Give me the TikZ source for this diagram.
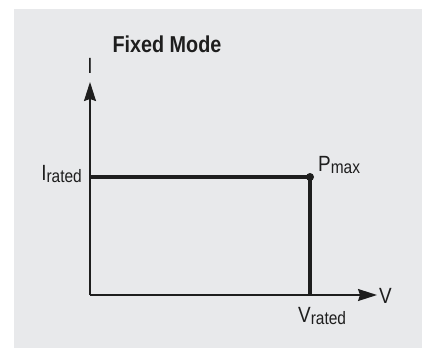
\documentclass[tikz,border=0pt]{standalone}
\usepackage{fontspec}
\setmainfont{Liberation Sans}[FakeStretch=0.86]
\usetikzlibrary{arrows.meta}
\definecolor{panel}{RGB}{232,233,235}
\definecolor{ink}{RGB}{30,30,30}
\newcommand{\lowtext}[1]{\raisebox{-2pt}{\fontsize{18}{18}\selectfont #1}}

\begin{document}
\begin{tikzpicture}[x=1pt, y=-1pt,
        every node/.style={font=\fontsize{22}{22}\selectfont, inner sep=0pt, text=ink},
        axis/.style={ink, line width=1.5, -{Stealth[length=19,width=12,inset=2]}},
        curve/.style={ink, line width=4}]
        \useasboundingbox (0,0) rectangle (422,349);
        \fill[panel] (14,9) rectangle (422,348);

        \coordinate (origin) at (90,295);
        \coordinate (itop) at (90,82);
        \coordinate (vtip) at (377,295);
        \coordinate (irated) at (90,177);
        \coordinate (pmax) at (310,177);
        \coordinate (vrated) at (310,295);

        \node[anchor=base, font=\bfseries\fontsize{23}{23}\selectfont] (title) at (167,52) {Fixed Mode};
        \node[anchor=base] (ilabel) at (90,73) {I};
        \node[anchor=base west] (vlabel) at (379,303) {V};
        \node[anchor=base east] (iratedlabel) at (82,180) {I\lowtext{rated}};
        \node[anchor=base west] (pmaxlabel) at (318,171) {P\lowtext{max}};
        \node[anchor=base west] (vratedlabel) at (298,322) {V\lowtext{rated}};

        \draw[axis] (origin) -- (itop);
        \draw[axis] (origin) -- (vtip);
        \draw[curve] (irated) -- (pmax) -- (vrated);
        \fill[ink] (pmax) circle (4);
    \end{tikzpicture}
\end{document}
